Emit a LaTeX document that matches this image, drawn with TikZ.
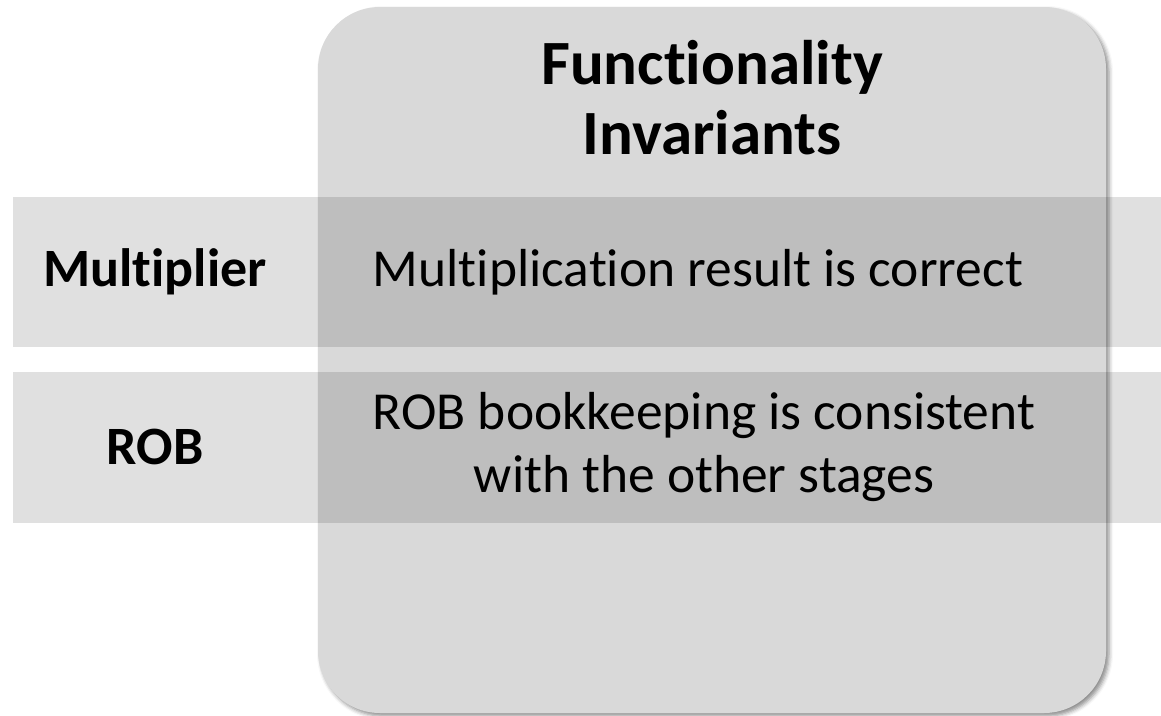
\documentclass[tikz,border=0pt]{standalone}
\usepackage{fontspec}
\setmainfont{Carlito}[RawFeature={-liga}]
\usetikzlibrary{shadows.blur}
\tikzset{
  panel/.style={draw=none, fill=panelgray, rounded corners=62pt,
    blur shadow={shadow xshift=3pt, shadow yshift=-3pt, shadow blur radius=4pt, shadow opacity=45}},
  band/.style={draw=none, fill=black, fill opacity=0.12},
  bodytext/.style={font=\fontsize{53.5}{63}\selectfont, align=center, inner sep=0pt, text=black},
  labeltext/.style={font=\fontsize{54}{63}\selectfont\bfseries, align=center, inner sep=0pt, text=black},
  titletext/.style={font=\fontsize{63}{70}\selectfont\bfseries, align=center, inner sep=0pt, text=black},
}
\definecolor{panelgray}{HTML}{D9D9D9}
\begin{document}
\begin{tikzpicture}[x=1pt,y=-1pt]
\useasboundingbox (0,0) rectangle (1161,715);
\path[panel] (318,7) rectangle (1106,713);
\path[band] (13,197) rectangle (1161,347);
\path[band] (13,372) rectangle (1161,523);
\node[titletext] (title) at (712,98) {Functionality\\Invariants};
\node[labeltext] (mult) at (155,272) {Multiplier};
\node[bodytext] (multtext) at (698,272) {Multiplication result is correct};
\node[labeltext] (rob) at (155,447) {ROB};
\node[bodytext] (robtext) at (704,447) {ROB bookkeeping is consistent\\with the other stages};
\end{tikzpicture}
\end{document}
